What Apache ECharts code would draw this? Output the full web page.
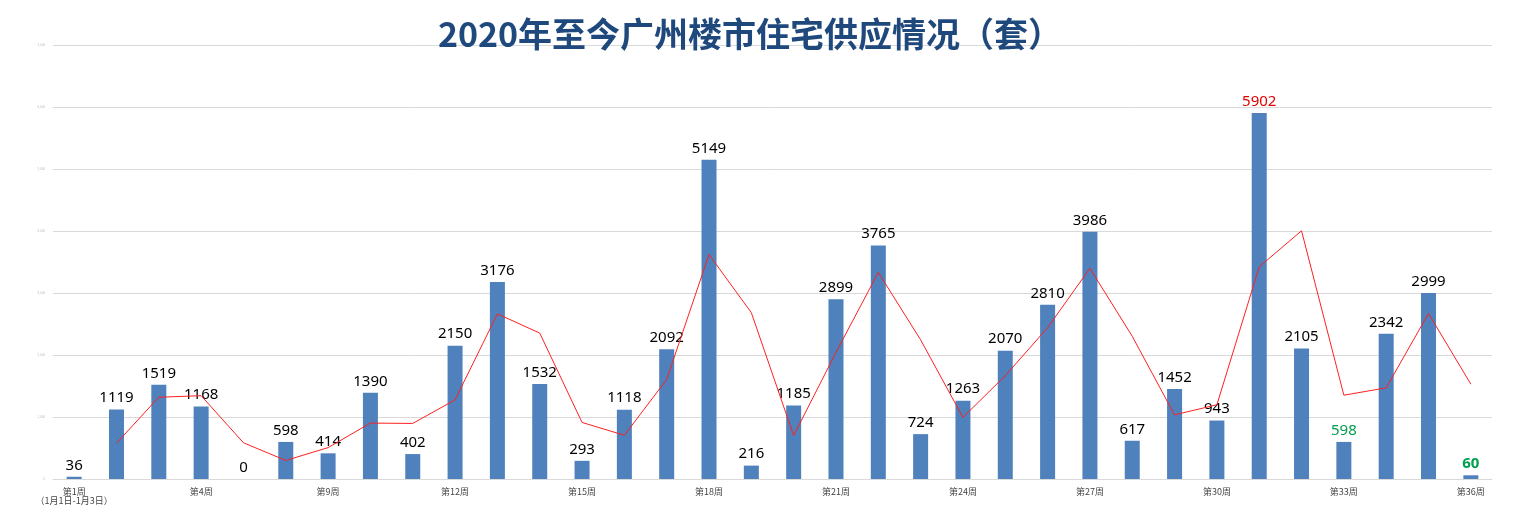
<!DOCTYPE html>
<html><head><meta charset="utf-8">
<script src="https://cdn.jsdelivr.net/npm/echarts@6/dist/echarts.min.js"></script>
<style>html,body{margin:0;padding:0;background:#fff}#c{width:1514px;height:523px}</style>
</head><body><div id="c"></div>
<script>
const categories=['第1周','第2周','第3周','第4周','第5周','第8周','第9周','第10周','第11周','第12周','第13周','第14周','第15周','第16周','第17周','第18周','第19周','第20周','第21周','第22周','第23周','第24周','第25周','第26周','第27周','第28周','第29周','第30周','第31周','第32周','第33周','第34周','第35周','第36周'];
const supply=[36,1119,1519,1168,0,598,414,1390,402,2150,3176,1532,293,1118,2092,5149,216,1185,2899,3765,724,1263,2070,2810,3986,617,1452,943,5902,2105,598,2342,2999,60];
const trend=['-',577.5,1319,1343.5,584,299,506,902,896,1276,2663,2354,912.5,705.5,1605,3620.5,2682.5,700.5,2042,3332,2244.5,993.5,1666.5,2440,3398,2301.5,1034.5,1197.5,3422.5,4003.5,1351.5,1470,2670.5,1529.5];
const yTicks={min:0,max:7000,interval:1000};
const chart=echarts.init(document.getElementById('c'));
const data=supply.map((v,i)=>{
  let o={value:v};
  if(v===5902)o.label={color:'#e00000'};
  if(i===30)o.label={color:'#00a050'};
  if(i===33)o.label={color:'#00a050',fontWeight:'bold'};
  return o;
});
chart.setOption({
  animation:false,
  title:{text:'2020年至今广州楼市住宅供应情况（套）',left:745,top:12,textAlign:'center',
    textStyle:{color:'#1f497d',fontSize:34,fontWeight:'bold',fontFamily:'Noto Sans CJK SC'}},
  grid:{left:53,right:22,top:45,bottom:44},
  xAxis:{type:'category',data:categories,
    axisLine:{lineStyle:{color:'#d9d9d9'}},axisTick:{show:false},
    axisLabel:{interval:2,color:'#444',fontSize:9,fontFamily:'Noto Sans CJK SC',
      formatter:(v,i)=>i===0?v+'\n（1月1日-1月3日）':v}},
  yAxis:{type:'value',...yTicks,
    axisLine:{show:false},axisTick:{show:false},
    axisLabel:{fontSize:3,color:'#bbb'},
    splitLine:{lineStyle:{color:'#d9d9d9'}}},
  series:[
    {type:'bar',data:data,barWidth:15,itemStyle:{color:'#4f81bd'},
     label:{show:true,position:'top',color:'#000',fontSize:15,fontFamily:'Noto Sans',distance:4}},
    {type:'line',data:trend,symbol:'none',lineStyle:{color:'#ff2020',width:1}}
  ]
});
</script></body></html>
